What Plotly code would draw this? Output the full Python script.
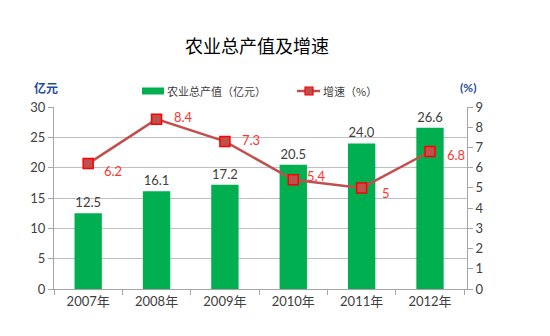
import plotly.graph_objects as go

years = ["2007年", "2008年", "2009年", "2010年", "2011年", "2012年"]
output_value = [12.5, 16.1, 17.2, 20.5, 24.0, 26.6]
growth = [6.2, 8.4, 7.3, 5.4, 5.0, 6.8]
output_labels = ["12.5", "16.1", "17.2", "20.5", "24.0", "26.6"]
growth_labels = ["6.2", "8.4", "7.3", "5.4", "5", "6.8"]
growth_label_dy = [-7, 2, 1, 4, -5, -4]
growth_label_dx = [16, 17, 17, 14, 20, 17]

FONT = "Lato, 'Noto Sans CJK SC', sans-serif"
CJK = "'Noto Sans CJK SC', sans-serif"

# plot area in pixels
L, R, T, B = 54, 467, 107, 289
W, H = R - L, B - T
def px(x): return (x - L) / W
def py(y): return (B - y) / H

fig = go.Figure()
fig.add_trace(go.Bar(
    x=years, y=output_value, name="农业总产值（亿元）",
    marker=dict(color="#00B050", line=dict(width=0)),
    width=0.4,
    text=output_labels, textposition="outside", cliponaxis=False,
    textfont=dict(color="#404040", size=13, family=FONT),
))
fig.add_trace(go.Scatter(
    x=years, y=growth, name="增速（%）", yaxis="y2",
    mode="lines+markers",
    line=dict(color="#C0504D", width=2.5),
    marker=dict(symbol="square", size=10, color="#C0504D", line=dict(color="#FF0000", width=1.5)),
    cliponaxis=False,
))

for yr, g, lab, dx, dy in zip(years, growth, growth_labels, growth_label_dx, growth_label_dy):
    fig.add_annotation(x=yr, y=g, xref="x", yref="y2", text=lab, showarrow=False,
                       xanchor="left", yanchor="middle", xshift=dx - 2, yshift=dy,
                       font=dict(color="#FF3333", size=13, family=FONT))

fig.update_layout(
    width=550, height=336,
    margin=dict(l=L, r=550 - R, t=T, b=336 - B),
    paper_bgcolor="white", plot_bgcolor="white",
    font=dict(family=FONT, color="#404040", size=13),
    title=dict(text="农业总产值及增速", x=px(257), xref="paper", xanchor="center",
               y=1 - 47 / 336, yanchor="middle",
               font=dict(family=CJK, size=18, color="#000000")),
    showlegend=False,
    bargap=0.6,
    xaxis=dict(showline=True, linecolor="#A6A6A6", linewidth=1, ticks="outside",
               tickcolor="#A6A6A6", ticklen=5, tickson="boundaries", showgrid=False,
               tickfont=dict(size=13, color="#404040")),
    yaxis=dict(range=[0, 30], dtick=5, showline=True, linecolor="#A6A6A6", linewidth=1,
               ticks="outside", tickcolor="#A6A6A6", ticklen=5, showgrid=True,
               gridcolor="#BFBFBF", gridwidth=1, zeroline=False,
               tickfont=dict(size=13, color="#404040")),
    yaxis2=dict(range=[0, 9], dtick=1, overlaying="y", side="right", showline=True,
                linecolor="#A6A6A6", linewidth=1, ticks="outside", tickcolor="#A6A6A6",
                ticklen=5, showgrid=False, zeroline=False,
                tickfont=dict(size=13, color="#404040")),
)

# manual legend
ly = 91
fig.add_shape(type="rect", xref="paper", yref="paper", x0=px(142), x1=px(164),
              y0=py(ly + 3.5), y1=py(ly - 3.5), fillcolor="#00B050", line=dict(width=0))
fig.add_annotation(text="农业总产值（亿元）", xref="paper", yref="paper", x=px(165), y=py(ly),
                   xanchor="left", yanchor="middle", showarrow=False,
                   font=dict(size=11, color="#404040", family=CJK))
fig.add_shape(type="line", xref="paper", yref="paper", x0=px(297), x1=px(320),
              y0=py(ly), y1=py(ly), line=dict(color="#C0504D", width=2.5))
fig.add_shape(type="rect", xref="paper", yref="paper", x0=px(305), x1=px(313),
              y0=py(ly + 4), y1=py(ly - 4), fillcolor="#C0504D",
              line=dict(color="#FF0000", width=1.2))
fig.add_annotation(text="增速（%）", xref="paper", yref="paper", x=px(321), y=py(ly),
                   xanchor="left", yanchor="middle", showarrow=False,
                   font=dict(size=11, color="#404040", family=CJK))

fig.add_annotation(text="<b>亿元</b>", xref="paper", yref="paper", x=px(46), y=py(88),
                   xanchor="center", yanchor="middle", showarrow=False,
                   font=dict(size=12, color="#1F4E9A", family=CJK))
fig.add_annotation(text="<b>(%)</b>", xref="paper", yref="paper", x=px(468), y=py(88),
                   xanchor="center", yanchor="middle", showarrow=False,
                   font=dict(size=12, color="#1F4E9A", family=FONT))

fig.write_html("out.html")
